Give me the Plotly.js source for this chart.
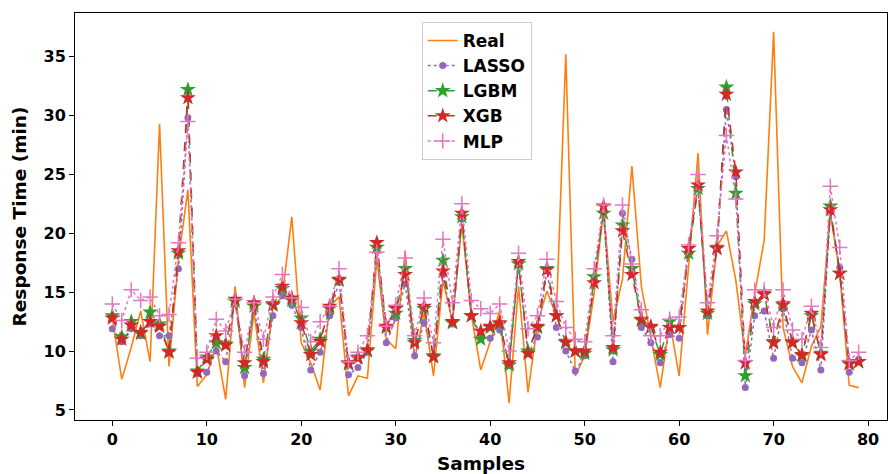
<!DOCTYPE html>
<html><head><meta charset="utf-8">
<script src="https://cdn.plot.ly/plotly-3.0.1.min.js"></script>
<style>body{margin:0;background:#fff}#chart{width:889px;height:474px}</style>
</head><body><div id="chart"></div>
<script>
const samples = Array.from({length: 80}, (_, i) => i);
const real = [12.8,7.6,10.3,13.4,9.1,29.3,8.7,17.8,23.7,7.0,8.0,10.5,5.9,15.5,6.9,13.3,7.3,13.6,14.7,21.4,10.7,9.0,6.7,13.8,14.6,6.2,7.9,7.7,17.8,11.0,10.2,18.5,9.3,13.2,7.9,16.0,12.5,20.8,13.1,8.4,10.8,13.4,5.6,15.5,6.5,12.3,15.1,13.0,35.2,7.9,9.6,14.9,22.0,12.5,16.1,25.7,15.5,11.1,6.9,12.5,7.9,17.2,26.8,11.4,18.9,20.2,16.0,9.6,14.9,19.4,37.1,12.0,8.7,7.3,10.4,12.1,21.7,16.6,7.1,6.9];
const lasso = [11.9,10.8,11.9,11.3,12.3,11.3,11.3,17.0,29.8,8.1,8.2,10.0,9.1,14.3,7.9,13.9,8.1,13.0,14.7,13.9,12.0,8.4,9.9,13.0,15.9,8.0,8.6,9.9,18.5,10.7,12.8,15.7,9.6,12.4,9.6,16.5,12.3,21.2,13.0,11.4,11.1,11.8,8.8,17.3,9.8,11.2,16.8,12.0,10.0,8.3,9.6,16.0,22.0,9.1,21.7,17.8,12.0,10.7,9.0,11.4,11.1,18.6,23.9,13.0,18.8,30.5,24.8,6.9,13.0,13.4,9.4,13.6,9.4,9.0,11.8,8.4,21.8,17.1,8.2,9.3];
const lgbm = [13.0,11.2,12.5,11.5,13.3,12.3,10.0,18.3,32.2,8.3,9.5,10.7,10.6,14.2,8.6,13.8,9.3,13.9,15.3,14.3,12.8,10.0,11.0,13.6,16.0,8.9,9.5,10.0,18.8,12.0,13.2,17.0,10.9,13.6,9.6,17.7,12.4,21.4,13.0,11.0,12.0,12.3,8.8,17.4,10.0,12.0,17.0,13.0,10.7,10.0,9.8,16.3,21.7,10.1,20.7,17.0,12.6,12.0,9.7,12.5,12.0,18.3,23.8,13.2,18.8,32.4,23.4,7.9,14.0,14.9,10.8,13.9,10.8,9.6,13.0,9.8,22.3,16.6,9.0,9.1];
const xgb = [12.8,11.0,12.2,11.6,12.5,12.1,9.9,18.5,31.5,8.2,9.3,11.3,10.5,14.4,9.0,14.1,9.1,14.0,15.5,14.5,12.4,9.7,10.8,13.8,16.1,9.0,9.4,10.1,19.2,12.1,13.6,16.5,10.7,13.8,9.5,16.8,12.5,21.7,13.0,11.7,12.1,12.4,9.0,17.6,9.8,12.1,16.9,13.0,10.8,10.0,10.0,15.8,22.3,10.3,20.2,16.5,12.7,12.1,9.9,12.0,12.0,18.7,24.1,13.4,18.7,31.8,25.2,9.0,14.2,14.8,10.7,14.0,10.7,9.7,13.2,9.7,22.0,16.6,8.9,9.1];
const mlp = [14.0,12.6,15.2,14.3,14.6,13.0,13.1,19.2,29.5,9.4,9.9,12.7,11.7,14.4,9.9,14.1,11.0,14.6,16.5,14.5,13.7,10.8,12.5,13.8,17.0,9.1,9.9,11.3,18.4,12.1,13.9,17.9,11.3,14.5,10.7,19.5,14.1,22.5,14.3,13.6,13.2,14.0,10.0,18.3,11.9,13.0,17.8,14.2,12.0,11.0,10.8,17.0,22.4,11.3,22.4,17.4,13.5,11.3,11.3,12.7,12.9,19.0,25.0,14.1,19.8,28.3,22.9,9.2,15.2,15.2,12.0,15.2,11.8,11.0,13.8,10.3,24.0,18.8,9.2,9.9];
const xTicks = [0,10,20,30,40,50,60,70,80];
const yTicks = [5,10,15,20,25,30,35];

const tickFont = {family: 'DejaVu Sans', size: 16, color: '#000', weight: 'bold'};
const legFont = {family: 'DejaVu Sans', size: 17, color: '#000', weight: 'bold'};
const titleFont = {family: 'DejaVu Sans', size: 18.5, color: '#000', weight: 'bold'};
const traces = [
  {x: samples, y: real, name: 'Real', mode: 'lines', line: {color: '#ff7f0e', width: 1.6}},
  {x: samples, y: lasso, name: 'LASSO', mode: 'lines+markers', line: {color: '#9467bd', width: 1.5, dash: 'dot'}, marker: {symbol: 'circle', size: 7, color: '#9467bd'}},
  {x: samples, y: lgbm, name: 'LGBM', mode: 'lines+markers', line: {color: '#2ca02c', width: 1.5, dash: 'dash'}, marker: {symbol: 'star', size: 12, color: '#2ca02c'}},
  {x: samples, y: xgb, name: 'XGB', mode: 'lines+markers', line: {color: '#d62728', width: 1.5, dash: 'dash'}, marker: {symbol: 'star', size: 12, color: '#d62728'}},
  {x: samples, y: mlp, name: 'MLP', mode: 'lines+markers', line: {color: '#e377c2', width: 1.5, dash: 'dot'}, marker: {symbol: 'cross-thin', size: 11, color: '#e377c2', line: {color: '#e377c2', width: 1.5}}}
];
const layout = {
  width: 889, height: 474,
  margin: {l: 75, r: 2, t: 13, b: 54},
  paper_bgcolor: '#fff', plot_bgcolor: '#fff',
  font: tickFont,
  showlegend: true,
  legend: {x: 0.427, y: 0.978, xanchor: 'left', yanchor: 'top', bgcolor: 'rgba(255,255,255,0.8)', bordercolor: '#cccccc', borderwidth: 1, font: legFont, tracegroupgap: 0},
  xaxis: {range: [-3.95, 82.0], tickvals: xTicks, ticktext: xTicks.map(String), ticks: 'outside', ticklen: 5, tickwidth: 1, tickcolor: '#000',
    showline: true, mirror: true, linecolor: '#000', linewidth: 1, showgrid: false, zeroline: false, tickfont: tickFont,
    title: {text: 'Samples', font: titleFont, standoff: 9}},
  yaxis: {range: [4.15, 38.7], tickvals: yTicks, ticktext: yTicks.map(String), ticks: 'outside', ticklen: 5, tickwidth: 1, tickcolor: '#000',
    showline: true, mirror: true, linecolor: '#000', linewidth: 1, showgrid: false, zeroline: false, tickfont: tickFont,
    title: {text: 'Response Time (min)', font: titleFont, standoff: 12}}
};
Plotly.newPlot('chart', traces, layout, {displayModeBar: false, staticPlot: true});
</script></body></html>
